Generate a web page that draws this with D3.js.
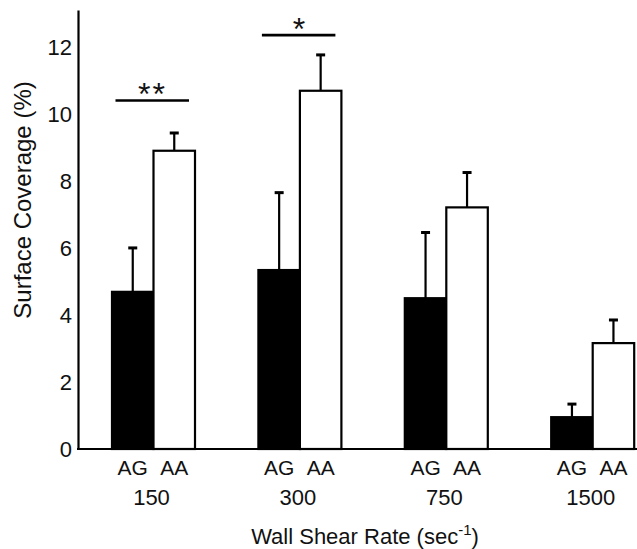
<!DOCTYPE html>
<html>
<head>
<meta charset="utf-8">
<script src="https://cdn.jsdelivr.net/npm/d3@7"></script>
<style>
  html, body { margin: 0; padding: 0; background: #fff; }
  svg { display: block; }
  text { font-family: "Liberation Sans", Arial, Helvetica, sans-serif; fill: #111; }
</style>
</head>
<body>
<svg id="chart" width="637" height="549"></svg>
<script>
// ---- data ----
const groups = ["150", "300", "750", "1500"];
const series = ["AG", "AA"];
const agMeans = [4.69, 5.34, 4.50, 0.95];
const agErr   = [1.31, 2.31, 1.96, 0.39];
const aaMeans = [8.90, 10.69, 7.21, 3.16];
const aaErr   = [0.53, 1.07, 1.04, 0.69];
const yTicks = [0, 2, 4, 6, 8, 10, 12];
const sigGroups = ["150", "300"];
const sigLevels = [10.4, 12.35];
const sigLabels = ["**", "*"];
const yTitle = "Surface Coverage (%)";
const xTitle = "Wall Shear Rate (sec";
const xTitleSup = "-1";

// ---- build ----
const svg = d3.select("#chart");
const y = d3.scaleLinear().domain([0, 13.1]).range([449, 10]);
const x = d3.scalePoint().domain(groups).range([153.5, 592.7]);
const sub = d3.scaleBand().domain(series).range([-41.5, 41.5]).padding(0);
const bw = sub.bandwidth();

const rows = [];
groups.forEach((g, i) => {
  rows.push({ g, s: "AG", v: agMeans[i], e: agErr[i] });
  rows.push({ g, s: "AA", v: aaMeans[i], e: aaErr[i] });
});

// error bars
const eb = svg.append("g");
rows.forEach(d => {
  const cx = x(d.g) + sub(d.s) + bw / 2;
  eb.append("line")
    .attr("x1", cx).attr("x2", cx)
    .attr("y1", y(d.v)).attr("y2", y(d.v + d.e))
    .attr("stroke", "#000").attr("stroke-width", 2.2);
  eb.append("line")
    .attr("x1", cx - 4.5).attr("x2", cx + 4.5)
    .attr("y1", y(d.v + d.e)).attr("y2", y(d.v + d.e))
    .attr("stroke", "#000").attr("stroke-width", 3);
});

// bars
svg.append("g").selectAll("rect").data(rows).join("rect")
  .attr("x", d => x(d.g) + sub(d.s))
  .attr("width", bw)
  .attr("y", d => y(d.v))
  .attr("height", d => y(0) - y(d.v))
  .attr("fill", d => d.s === "AG" ? "#000" : "#fff")
  .attr("stroke", "#000")
  .attr("stroke-width", 2.2);

// y axis
const yAxis = d3.axisLeft(y).tickValues(yTicks).tickSize(0).tickPadding(6);
const ya = svg.append("g").attr("transform", "translate(78,0)").call(yAxis);
ya.select(".domain").attr("stroke", "#000").attr("stroke-width", 2.2);
ya.selectAll(".tick text")
  .attr("font-size", 22)
  .attr("font-family", '"Liberation Sans", Arial, Helvetica, sans-serif')
  .attr("fill", "#111")
  .attr("dy", "0.36em");

// x axis baseline
svg.append("line")
  .attr("x1", 77).attr("x2", 637)
  .attr("y1", y(0)).attr("y2", y(0))
  .attr("stroke", "#000").attr("stroke-width", 2.2);

// series labels under bars
svg.append("g").selectAll("text").data(rows).join("text")
  .attr("x", d => x(d.g) + sub(d.s) + bw / 2)
  .attr("y", 475)
  .attr("text-anchor", "middle")
  .attr("font-size", 21)
  .text(d => d.s);

// group labels
svg.append("g").selectAll("text").data(groups).join("text")
  .attr("x", d => x(d) - 2)
  .attr("y", 504.5)
  .attr("text-anchor", "middle")
  .attr("font-size", 22)
  .text(d => d);

// significance markers
sigGroups.forEach((g, i) => {
  const cx = x(g);
  svg.append("line")
    .attr("x1", cx - 38).attr("x2", cx + 35.5)
    .attr("y1", y(sigLevels[i])).attr("y2", y(sigLevels[i]))
    .attr("stroke", "#000").attr("stroke-width", 2.6);
  svg.append("text")
    .attr("x", cx - 1)
    .attr("y", y(sigLevels[i]) + 5)
    .attr("text-anchor", "middle")
    .attr("font-size", 32)
    .attr("letter-spacing", sigLabels[i].length > 1 ? 2 : 0)
    .text(sigLabels[i]);
});

// y title
svg.append("text")
  .attr("transform", "translate(31,200) rotate(-90)")
  .attr("text-anchor", "middle")
  .attr("font-size", 24)
  .text(yTitle);

// x title
const xt = svg.append("text")
  .attr("x", 365).attr("y", 543.5)
  .attr("text-anchor", "middle")
  .attr("font-size", 22);
xt.append("tspan").text(xTitle);
xt.append("tspan").attr("dy", -9).attr("font-size", 15).text(xTitleSup);
xt.append("tspan").attr("dy", 9).text(")");
</script>
</body>
</html>
